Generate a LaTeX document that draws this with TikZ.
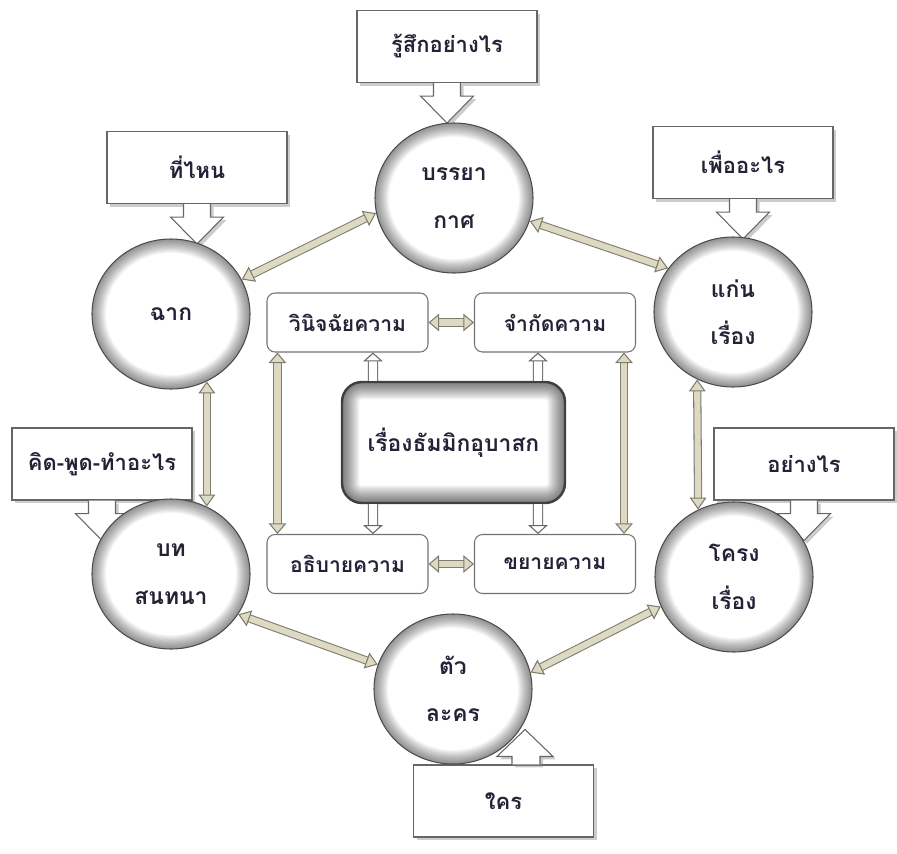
\documentclass[tikz,border=0pt]{standalone}
\usepackage{fontspec}
\newfontfamily\thaifont[Script=Thai]{Loma}
\usetikzlibrary{shapes.geometric,arrows.meta,shadows}
\definecolor{tanfill}{RGB}{221,217,195}
\definecolor{tanline}{RGB}{125,124,110}
\definecolor{inkblue}{RGB}{35,35,55}

\begin{document}
\begin{tikzpicture}[thick,
		ball/.style={ellipse, draw=black!70, line width=0.6pt, fill=white, minimum width=3.16cm, minimum height=3cm, align=center, text=inkblue, font=\thaifont\bfseries\fontsize{13}{27}\selectfont,
			path picture={\foreach \w in {1,2,...,16} \draw[black, opacity=0.03, line width=\w pt] (path picture bounding box.center) ellipse [x radius=1.58cm, y radius=1.5cm];}},
		callbox/.style={rectangle, draw=black!60, line width=0.6pt, fill=white, minimum width=3.6cm, minimum height=1.44cm, text=inkblue, font=\thaifont\bfseries\fontsize{12.5}{16}\selectfont, drop shadow={shadow xshift=0.06cm, shadow yshift=-0.06cm, opacity=0.4}},
		pointer/.style={draw=black!60, line width=0.6pt, fill=white, drop shadow={shadow xshift=0.06cm, shadow yshift=-0.06cm, opacity=0.4}},
		idea/.style={rectangle, rounded corners=0.16cm, draw=black!55, line width=0.6pt, fill=white, minimum width=3.22cm, minimum height=1.18cm, text=inkblue, font=\thaifont\bfseries\fontsize{12}{16}\selectfont},
		core/.style={rectangle, rounded corners=0.4cm, draw=black!75, line width=1.4pt, fill=white, minimum width=4.46cm, minimum height=2.42cm, text=inkblue, font=\thaifont\bfseries\fontsize{13}{16}\selectfont,
			path picture={\foreach \w in {1,2,...,20} \draw[black, opacity=0.03, line width=\w pt, rounded corners=0.4cm] (path picture bounding box.south west) rectangle (path picture bounding box.north east);}},
		fat/.style={draw=tanline, line width=0.6pt, double=tanfill, double distance=3.5pt, <->, >={Triangle[width=9.5pt, length=6.8pt, fill=tanfill, line width=0.6pt]}},
		fatin/.style={draw=tanline, line width=0.6pt, double=tanfill, double distance=3.8pt, <->, >={Triangle[width=10pt, length=6pt, fill=tanfill, line width=0.6pt]}},
		hollow/.style={draw=black!60, line width=0.6pt, double=white, double distance=4.6pt, ->, >={Triangle[width=11pt, length=5pt, fill=white, line width=0.6pt]}}]
	\useasboundingbox (0,0) rectangle (17.94,-17.08);

	\node[callbox] (rusuk) at (8.94,-0.93) {รู้สึกอย่างไร};
	\node[callbox] (thinai) at (3.94,-3.35) {ที่ไหน};
	\node[callbox] (phuea) at (14.86,-3.25) {เพื่ออะไร};
	\node[callbox] (khit) at (2.04,-9.28) {คิด-พูด-ทำอะไร};
	\node[callbox] (yangrai) at (16.08,-9.28) {อย่างไร};
	\node[callbox] (khrai) at (10.07,-16.02) {ใคร};

	\draw[pointer] (rusuk.south) ++(-0.27,0) -- ++(0,-0.26) -- ++(-0.26,0) -- ++(0.53,-0.54) -- ++(0.53,0.54) -- ++(-0.26,0) -- ++(0,0.26);
	\draw[pointer] (thinai.south) ++(-0.27,0) -- ++(0,-0.26) -- ++(-0.26,0) -- ++(0.53,-0.54) -- ++(0.53,0.54) -- ++(-0.26,0) -- ++(0,0.26);
	\draw[pointer] (phuea.south) ++(-0.27,0) -- ++(0,-0.26) -- ++(-0.26,0) -- ++(0.53,-0.54) -- ++(0.53,0.54) -- ++(-0.26,0) -- ++(0,0.26);
	\draw[pointer] (khit.south) ++(-0.27,0) -- ++(0,-0.26) -- ++(-0.26,0) -- ++(0.53,-0.54) -- ++(0.53,0.54) -- ++(-0.26,0) -- ++(0,0.26);
	\draw[pointer] (yangrai.south) ++(-0.27,0) -- ++(0,-0.26) -- ++(-0.26,0) -- ++(0.53,-0.54) -- ++(0.53,0.54) -- ++(-0.26,0) -- ++(0,0.26);
	\draw[pointer] (khrai.north) ++(0.17,0) -- ++(0,0.16) -- ++(-0.3,0) -- ++(0.56,0.54) -- ++(0.56,-0.54) -- ++(-0.26,0) -- ++(0,-0.16);

	\node[ball] (bany) at (9.08,-3.96) {บรรยา\\กาศ};
	\node[ball] (chak) at (3.42,-6.28) {ฉาก};
	\node[ball] (kaen) at (14.66,-6.24) {แก่น\\เรื่อง};
	\node[ball] (bot) at (3.42,-11.48) {บท\\สนทนา};
	\node[ball] (krong) at (14.68,-11.54) {โครง\\เรื่อง};
	\node[ball] (tua) at (9.06,-13.78) {ตัว\\ละคร};

	\node[idea] (winit) at (6.95,-6.45) {วินิจฉัยความ};
	\node[idea] (jamkat) at (11.1,-6.45) {จำกัดความ};
	\node[idea] (athibai) at (6.95,-11.28) {อธิบายความ};
	\node[idea] (khayai) at (11.1,-11.28) {ขยายความ};
	\node[core] (main) at (9.07,-8.85) {เรื่องธัมมิกอุบาสก};

	\draw[hollow] ([xshift=-1.61cm]main.north) -- ([xshift=0.51cm]winit.south);
	\draw[hollow] ([xshift=1.69cm]main.north) -- ([xshift=-0.34cm]jamkat.south);
	\draw[hollow] ([xshift=-1.61cm]main.south) -- ([xshift=0.51cm]athibai.north);
	\draw[hollow] ([xshift=1.69cm]main.south) -- ([xshift=-0.34cm]khayai.north);

	\draw[fatin] (winit.east) -- (jamkat.west);
	\draw[fatin] (athibai.east) -- (khayai.west);
	\draw[fatin] ([xshift=0.22cm]winit.south west) -- ([xshift=0.22cm]athibai.north west);
	\draw[fatin] ([xshift=-0.24cm]jamkat.south east) -- ([xshift=-0.24cm]khayai.north east);

	\draw[fat] (chak.26) -- (bany.191);
	\draw[fat] (bany.-17) -- (kaen.146);
	\draw[fat] (chak.-62) -- (bot.62);
	\draw[fat] (kaen.-118) -- (krong.118);
	\draw[fat] (bot.-31) -- (tua.162);
	\draw[fat] (tua.12) -- (krong.-158);
\end{tikzpicture}
\end{document}
